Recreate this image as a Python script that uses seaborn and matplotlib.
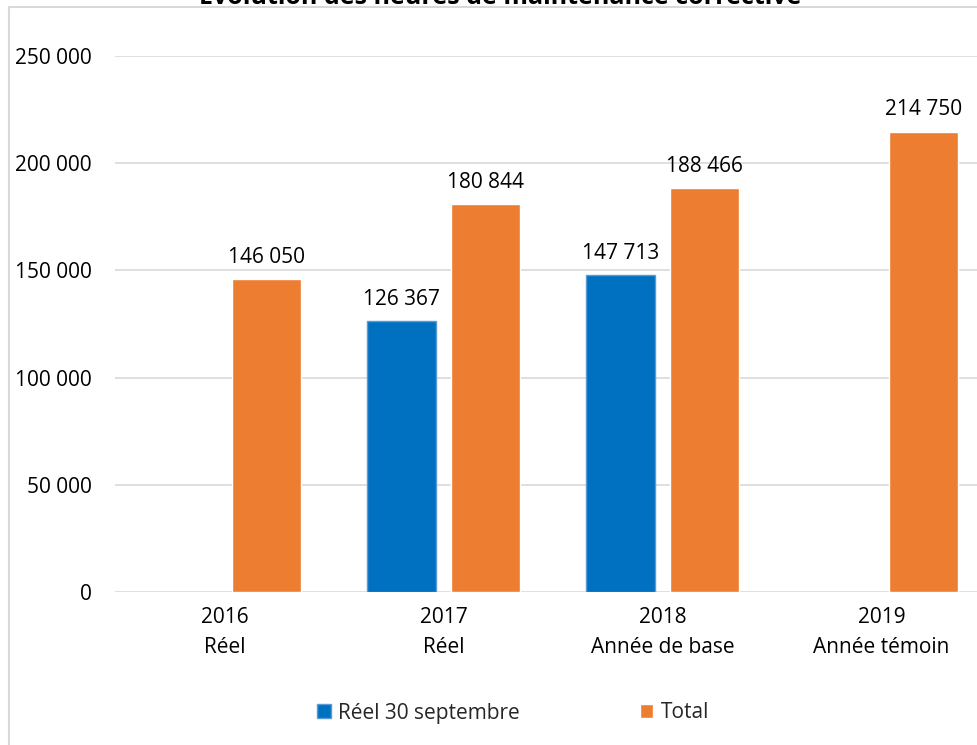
import pandas as pd
import numpy as np
import matplotlib.pyplot as plt
import seaborn as sns
from matplotlib.lines import Line2D
from matplotlib.patches import Patch

# Data
years = ["2016\nRéel", "2017\nRéel", "2018\nAnnée de base", "2019\nAnnée témoin"]
reel_30_sept = [np.nan, 126367, 147713, np.nan]
total = [146050, 180844, 188466, 214750]
series_names = ["Réel 30 septembre", "Total"]
title = "Évolution des heures de maintenance corrective"

blue = "#0070C0"
orange = "#ED7D31"

df = pd.DataFrame({
    "annee": years * 2,
    "serie": [series_names[0]] * 4 + [series_names[1]] * 4,
    "heures": reel_30_sept + total,
})

sns.set_theme(style="white")
plt.rcParams["font.family"] = ["Open Sans", "DejaVu Sans"]

fig = plt.figure(figsize=(9.78, 7.45), dpi=100)
ax = fig.add_axes([115 / 978, 153 / 745, (978 - 115) / 978, 536 / 745])

sns.barplot(data=df, x="annee", y="heures", hue="serie", order=years,
            hue_order=series_names, palette=[blue, orange],
            width=0.767, gap=0.19, ax=ax, errorbar=None, saturation=1)

# light outline on the blue bars
for bar in ax.containers[0]:
    bar.set_edgecolor("#5B9BD5")
    bar.set_linewidth(1)

for cont in ax.containers:
    labels = ["" if np.isnan(v) or v == 0 else f"{v:,.0f}".replace(",", " ")
              for v in cont.datavalues]
    ax.bar_label(cont, labels=labels, padding=8, fontsize=15, color="#000000")

ax.set_ylim(0, 250000)
ax.set_xlim(-0.5, 3.5 - 13 / 219)
ax.set_yticks(range(0, 250001, 50000))
ax.set_yticklabels([f"{t:,}".replace(",", " ") for t in range(0, 250001, 50000)])
ax.yaxis.grid(True, color="#D9D9D9", linewidth=1.2)
ax.set_axisbelow(True)
for s in ax.spines.values():
    s.set_visible(False)
ax.tick_params(axis="y", length=0, pad=17, labelsize=15, labelcolor="#000000")
ax.tick_params(axis="x", length=0, pad=11, labelsize=15, labelcolor="#000000")
for lab in ax.get_xticklabels():
    lab.set_linespacing(1.55)
ax.set_xlabel("")
ax.set_ylabel("")

# legend at the bottom
ax.get_legend().remove()
handles = [Patch(facecolor=blue, edgecolor="#5B9BD5"), Patch(facecolor=orange)]
fig.legend(handles, series_names, loc="center", bbox_to_anchor=(513 / 978, 1 - 713 / 745),
           ncol=2, frameon=False, fontsize=15, handlelength=0.65, handleheight=0.65,
           handletextpad=0.35, columnspacing=5.75)

# chart border (cropped)
fig.add_artist(Line2D([9 / 978, 9 / 978], [0, 1 - 7 / 745], color="#D9D9D9", linewidth=1.5))
fig.add_artist(Line2D([9 / 978, 1], [1 - 7 / 745, 1 - 7 / 745], color="#D9D9D9", linewidth=1.5))

# title, mostly cut off at the top
fig.text(500 / 978, 1 - 3.5 / 745, title, ha="center", va="baseline",
         fontsize=18, fontweight="bold", color="#000000")

fig.savefig("out.png", dpi=100)
